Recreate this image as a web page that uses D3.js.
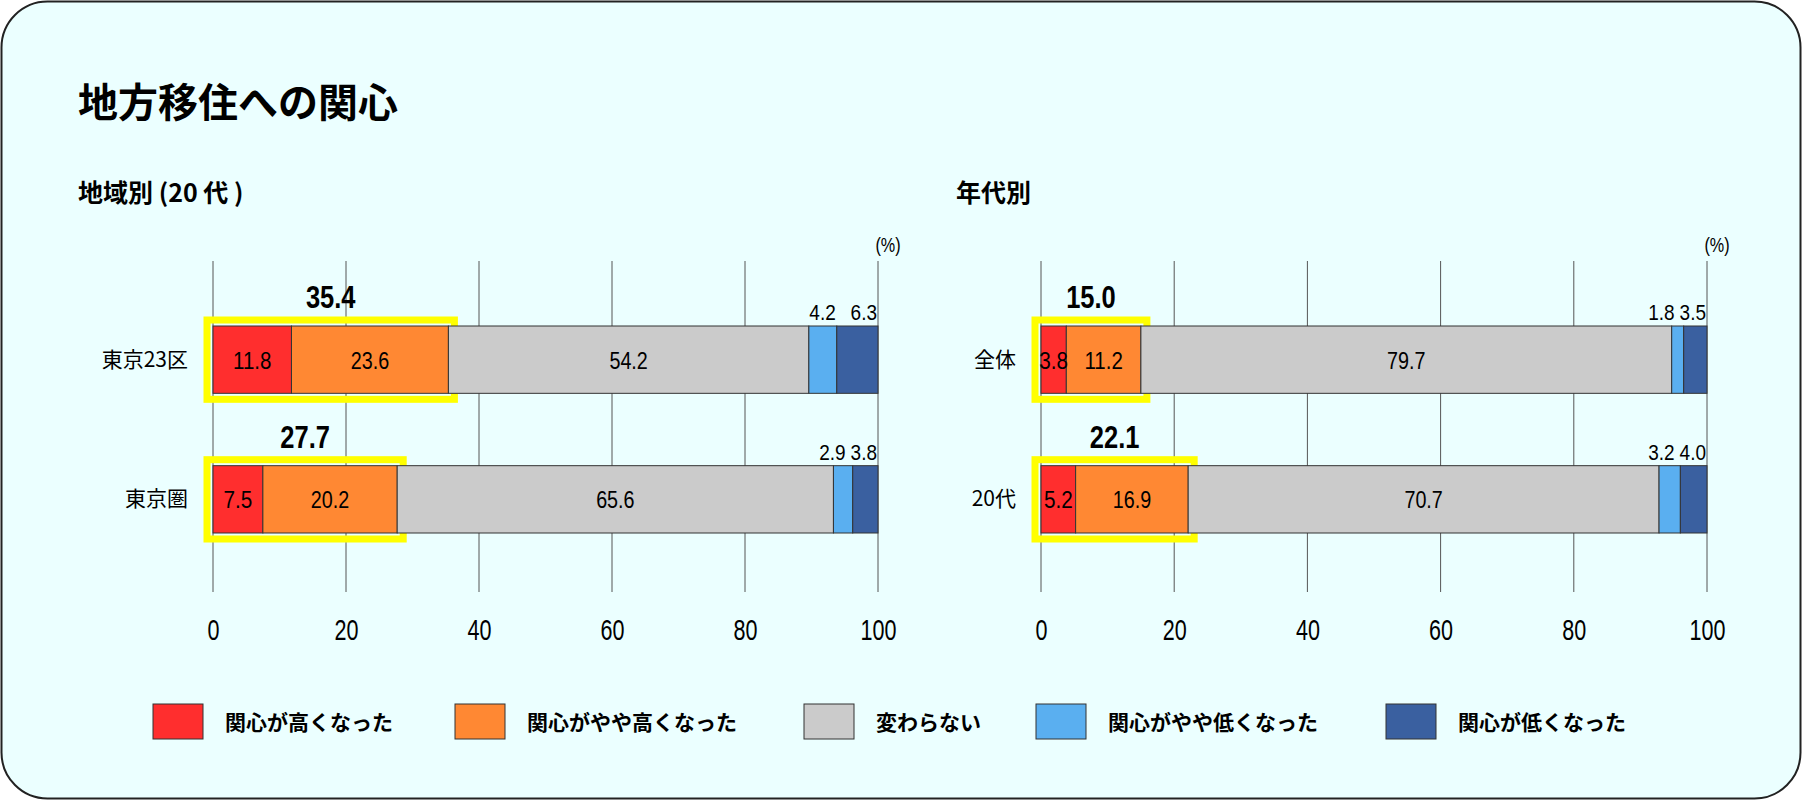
<!DOCTYPE html>
<html><head><meta charset="utf-8">
<script src="https://cdn.jsdelivr.net/npm/d3@7"></script>
<style>
body{margin:0;background:#fff;}
text{font-family:"Noto Sans CJK JP",sans-serif;}
.num{font-family:"Liberation Sans","DejaVu Sans",sans-serif;}
</style></head><body>
<script>
// data
var series = ['関心が高くなった', '関心がやや高くなった', '変わらない', '関心がやや低くなった', '関心が低くなった'];
var colors = ['#ff2e2e', '#ff8833', '#cbcbcb', '#5aaff0', '#3a60a0'];
var regionCats = ['東京23区', '東京圏'];
var regionValues = [[11.8, 23.6, 54.2, 4.2, 6.3], [7.5, 20.2, 65.6, 2.9, 3.8]];
var regionTotals = ['35.4', '27.7'];
var ageCats = ['全体', '20代'];
var ageValues = [[3.8, 11.2, 79.7, 1.8, 3.5], [5.2, 16.9, 70.7, 3.2, 4.0]];
var ageTotals = ['15.0', '22.1'];
var ticks = [0, 20, 40, 60, 80, 100];

var W = 1802, H = 800;
var svg = d3.select('body').append('svg').attr('width', W).attr('height', H);
svg.append('rect').attr('x', 1.5).attr('y', 1.5).attr('width', W - 3).attr('height', H - 3)
  .attr('rx', 46).attr('fill', '#ebffff').attr('stroke', '#222').attr('stroke-width', 2);

svg.append('text').attr('x', 78).attr('y', 117).attr('font-size', 40).attr('font-weight', 'bold').text('地方移住への関心');

// squeeze numbers into a condensed look
function narrow(sel, size) {
  sel.attr('class', 'num').attr('font-size', size)
    .attr('lengthAdjust', 'spacingAndGlyphs')
    .attr('textLength', function () { var t = d3.select(this).text(); return t.length * size * 0.4; });
}

function panel(opt) {
  var x = d3.scaleLinear().domain([0, 100]).range([opt.x0, opt.x1]);
  var y = d3.scaleBand().domain(opt.cats).range([326, 533]).paddingInner(0.518).paddingOuter(0);
  var g = svg.append('g');

  g.append('text').attr('x', opt.titleX).attr('y', 202).attr('font-size', 25).attr('font-weight', 'bold').text(opt.title);
  g.append('text').attr('x', x(100) + 10).attr('y', 252).attr('text-anchor', 'middle').text('(%)').call(narrow, 21);

  g.selectAll('.grid').data(ticks).enter().append('line')
    .attr('x1', d => x(d)).attr('x2', d => x(d)).attr('y1', 261).attr('y2', 592)
    .attr('stroke', '#555').attr('stroke-width', 1);

  var axis = d3.axisBottom(x).tickValues(ticks).tickSize(0).tickPadding(0);
  var ax = g.append('g').attr('transform', 'translate(0,640)').call(axis);
  ax.select('.domain').remove();
  ax.selectAll('text').attr('fill', '#000').attr('dy', 0).call(narrow, 30);

  opt.cats.forEach(function (c, i) {
    var vals = opt.values[i];
    var cum = 0;
    var segs = vals.map(function (v, k) { var s = { k: k, v: v, a: cum, b: cum + v }; cum += v; return s; });
    var by = y(c), bh = y.bandwidth();

    g.append('text').attr('x', opt.labelX).attr('y', by + bh / 2 + 7).attr('font-size', 21).attr('text-anchor', 'end').text(c);

    // highlight box around the first two segments
    var hb = segs[1].b;
    g.append('rect').attr('x', x(0) - 6).attr('y', by - 6).attr('width', x(hb) - x(0) + 12).attr('height', bh + 12)
      .attr('fill', 'none').attr('stroke', '#ffff00').attr('stroke-width', 7);

    g.selectAll('.seg' + i).data(segs).enter().append('rect')
      .attr('x', d => x(d.a)).attr('y', by).attr('width', d => x(Math.min(d.b, 100)) - x(d.a)).attr('height', bh)
      .attr('fill', d => colors[d.k]).attr('stroke', '#333').attr('stroke-width', 1);

    segs.forEach(function (d) {
      if (d.k < 3) {
        g.append('text').attr('x', (x(d.a) + x(d.b)) / 2).attr('y', by + bh / 2 + 9)
          .attr('text-anchor', 'middle').text(d.v.toFixed(1)).call(narrow, 24);
      }
    });
    var w4 = 3 * 22 * 0.4;
    g.append('text').attr('x', x(100) - 1).attr('y', by - 6).attr('text-anchor', 'end')
      .text(segs[4].v.toFixed(1)).call(narrow, 22);
    g.append('text').attr('x', Math.min(x(segs[3].b) - 1, x(100) - w4 - 6)).attr('y', by - 6).attr('text-anchor', 'end')
      .text(segs[3].v.toFixed(1)).call(narrow, 22);

    g.append('text').attr('x', (x(0) + x(hb)) / 2).attr('y', by - 18)
      .attr('font-weight', 'bold').attr('text-anchor', 'middle').text(opt.totals[i]).call(narrow, 31);
  });
}

panel({ x0: 213, x1: 878, cats: regionCats, values: regionValues, totals: regionTotals, title: '地域別 (20 代 )', titleX: 78, labelX: 188 });
panel({ x0: 1041, x1: 1707, cats: ageCats, values: ageValues, totals: ageTotals, title: '年代別', titleX: 956, labelX: 1016 });

// legend
var legX = [153, 455, 804, 1036, 1386];
var leg = svg.append('g').selectAll('g').data(series).enter().append('g')
  .attr('transform', (d, i) => 'translate(' + legX[i] + ',704)');
leg.append('rect').attr('width', 50).attr('height', 35).attr('fill', (d, i) => colors[i]).attr('stroke', '#333');
leg.append('text').attr('x', 72).attr('y', 26).attr('font-size', 21).attr('font-weight', 'bold').text(d => d);
</script>
</body></html>
